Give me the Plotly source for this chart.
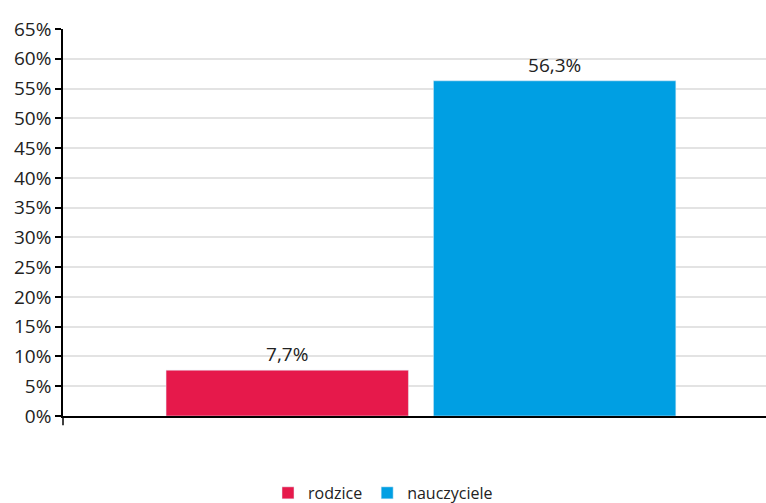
import plotly.graph_objects as go

series_names = ["rodzice", "nauczyciele"]
values = [7.7, 56.3]
colors = ["#E6194B", "#009FE3"]
y_ticks = list(range(0, 70, 5))
y_tick_labels = [f"{t}%" for t in y_ticks]

fig = go.Figure()
for name, v, c in zip(series_names, values, colors):
    fig.add_trace(go.Bar(
        x=[0], y=[v], name=name, marker_color=c,
        texttemplate="%{y:.1f}%", textposition="outside",
        textfont=dict(color="#222222", size=19),
        cliponaxis=False,
    ))

fig.update_layout(
    width=766, height=503,
    margin=dict(l=63, r=0, t=29, b=87),
    barmode="group", bargap=0.253, bargroupgap=0.0935,
    separators=",.",
    plot_bgcolor="white", paper_bgcolor="white",
    font=dict(family="Open Sans", size=19, color="#222222"),
    showlegend=True,
    legend=dict(orientation="h", xref="container", yref="container",
                x=0.5, xanchor="center", y=0.02, yanchor="middle",
                font=dict(size=16), tracegroupgap=0),
    xaxis=dict(range=[-0.5, 0.482], showticklabels=False, showgrid=False,
               zeroline=False, showline=True, linecolor="black", linewidth=2,
               ticks=""),
    yaxis=dict(range=[0, 65], tickvals=y_ticks, ticktext=y_tick_labels,
               showgrid=True, gridcolor="#e3e3e3", gridwidth=1.5,
               zeroline=False, showline=True, linecolor="black", linewidth=1.5,
               ticks="outside", ticklen=6, tickcolor="black", tickwidth=1.5),
    shapes=[dict(type="line", xref="paper", x0=0, x1=0, yref="paper",
                 y0=0, y1=-0.024, layer="above",
                 line=dict(color="black", width=1.5))],
)

fig.write_html("out.html", config={"displayModeBar": False},
               post_script="document.body.style.margin='0';document.body.style.overflow='hidden';")
